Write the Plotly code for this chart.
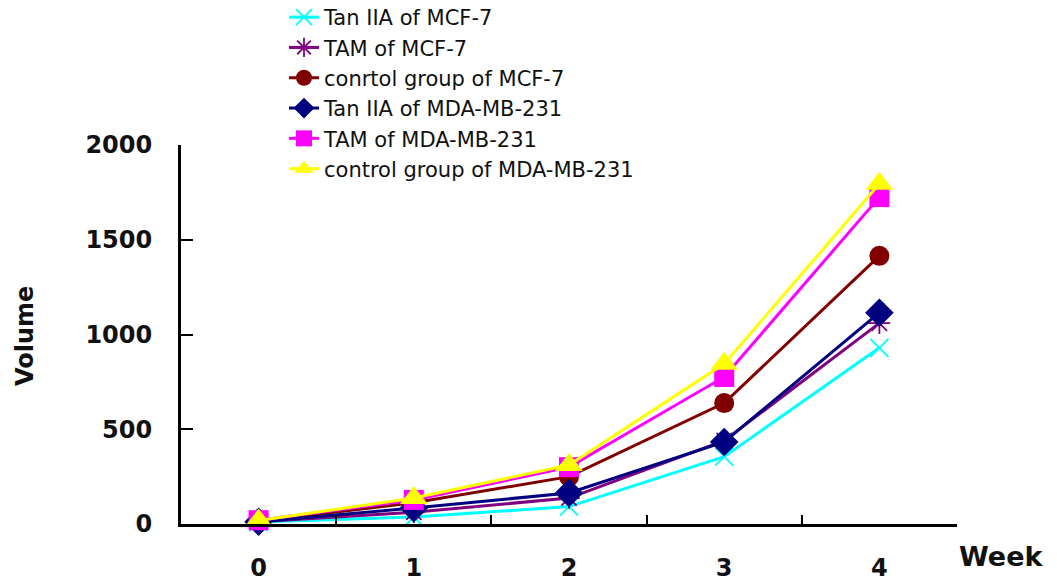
import plotly.graph_objects as go

weeks = ["0", "1", "2", "3", "4"]

tan_mcf7 = [10, 37, 92, 355, 930]
tam_mcf7 = [12, 62, 137, 440, 1060]
ctrl_mcf7 = [15, 112, 250, 638, 1415]
tan_mda = [12, 84, 164, 433, 1115]
tam_mda = [20, 127, 300, 776, 1725]
ctrl_mda = [18, 137, 311, 845, 1795]

series = [
    ("Tan IIA of MCF-7", tan_mcf7, "#00FFFF", "x-thin", 18, 1.8),
    ("TAM of MCF-7", tam_mcf7, "#800080", "asterisk", 18, 1.8),
    ("conrtol group of MCF-7", ctrl_mcf7, "#800000", "circle", 20, 0),
    ("Tan IIA of MDA-MB-231", tan_mda, "#000080", "diamond", 22, 0),
    ("TAM of MDA-MB-231", tam_mda, "#FF00FF", "square", 20, 0),
    ("control group of MDA-MB-231", ctrl_mda, "#FFFF00", "triangle-up", 24, 0),
]

fig = go.Figure()
for name, vals, color, symbol, size, mlw in series:
    fig.add_trace(go.Scatter(
        x=weeks, y=vals, name=name, mode="lines+markers",
        line=dict(color=color, width=3),
        marker=dict(symbol=symbol, size=size, color=color,
                    line=dict(color=color, width=mlw)),
        cliponaxis=False,
    ))

tick_font = dict(family="DejaVu Sans", size=24, color="#111111", weight="bold")

fig.update_layout(
    width=1057, height=585,
    margin=dict(l=181, r=100, t=145, b=61, autoexpand=False),
    paper_bgcolor="white", plot_bgcolor="white",
    showlegend=True,
    legend=dict(
        x=(284 - 181) / 776, xanchor="left",
        y=(524 + 3) / 379, yanchor="top",
        font=dict(family="DejaVu Sans", size=21, color="#111111"),
        bgcolor="rgba(0,0,0,0)", tracegroupgap=0, itemwidth=30,
    ),
    xaxis=dict(
        type="category", range=[-0.5, 4.5],
        showline=True, linecolor="black", linewidth=3,
        ticks="inside", ticklen=9, tickwidth=2, tickcolor="black",
        tickson="boundaries", showgrid=False, zeroline=False,
        tickfont=tick_font, ticklabelstandoff=20,
    ),
    yaxis=dict(
        range=[0, 2000], tickvals=[0, 500, 1000, 1500, 2000],
        showline=True, linecolor="black", linewidth=3,
        ticks="inside", ticklen=12, tickwidth=2, tickcolor="black",
        showgrid=False, zeroline=False,
        tickfont=tick_font, ticklabelstandoff=21,
    ),
    annotations=[
        dict(text="Week", xref="paper", yref="paper",
             x=(1001 - 181) / 776, y=(524 - 556) / 379,
             xanchor="center", yanchor="middle", showarrow=False,
             font=dict(family="DejaVu Sans", size=27, color="#111111", weight="bold")),
        dict(text="Volume", xref="paper", yref="paper",
             x=(25 - 181) / 776, y=(524 - 336) / 379, textangle=-90,
             xanchor="center", yanchor="middle", showarrow=False,
             font=dict(family="DejaVu Sans", size=24, color="#111111", weight="bold")),
    ],
)

fig.write_html("out.html")
